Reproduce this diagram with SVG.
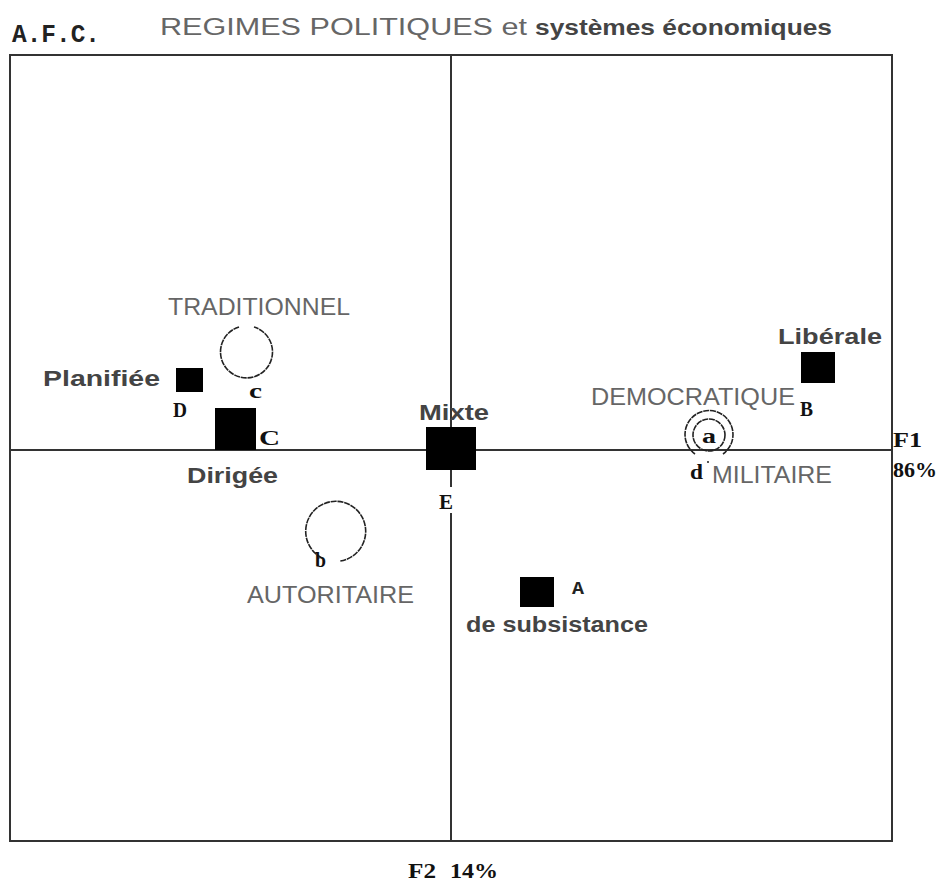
<svg xmlns="http://www.w3.org/2000/svg" width="943" height="887" viewBox="0 0 943 887">
<style>
.lt{font-family:"Liberation Sans",Arial,sans-serif;fill:#666;font-size:23px}
.bd{font-family:"Liberation Sans",Arial,sans-serif;font-weight:bold;fill:#444;font-size:22px}
.sf{font-family:"Liberation Serif","Times New Roman",serif;font-weight:bold;fill:#111;font-size:20px}
.mo{font-family:"Liberation Mono","Courier New",monospace;font-weight:bold;fill:#222}
.pt{fill:#000}
.ci{fill:none;stroke:#222;stroke-width:1.6;stroke-dasharray:6 0.8}
</style>
<rect width="943" height="887" fill="#fff"/>
<g id="title">
<text class="mo" x="12" y="42" font-size="25" textLength="88" lengthAdjust="spacingAndGlyphs">A.F.C.</text>
<text class="lt" x="160" y="35" font-size="29" textLength="367" lengthAdjust="spacingAndGlyphs" fill="#777">REGIMES POLITIQUES et</text>
<text class="bd" x="535" y="35" font-size="23" textLength="297" lengthAdjust="spacingAndGlyphs" fill="#333">systèmes économiques</text>
</g>
<g id="axes" fill="none" stroke="#333" stroke-width="2">
<rect x="10" y="55" width="882" height="786"/>
<line x1="451" y1="55" x2="451" y2="841"/>
<line x1="10" y1="450" x2="892" y2="450"/>
</g>
<g id="axis-labels">
<text class="sf" x="893" y="447" font-size="22" textLength="29" lengthAdjust="spacingAndGlyphs">F1</text>
<text class="sf" x="893" y="477" font-size="22" textLength="44" lengthAdjust="spacingAndGlyphs">86%</text>
<text class="sf" x="408" y="878" font-size="22" textLength="28" lengthAdjust="spacingAndGlyphs">F2</text>
<text class="sf" x="450" y="878" font-size="22" textLength="48" lengthAdjust="spacingAndGlyphs">14%</text>
</g>
<g id="node-D">
<rect class="pt" x="176" y="368" width="27" height="24"/>
<text class="bd" x="43" y="386" textLength="117" lengthAdjust="spacingAndGlyphs">Planifiée</text>
<text class="sf" x="173" y="417" textLength="14" lengthAdjust="spacingAndGlyphs">D</text>
</g>
<g id="node-C">
<rect class="pt" x="215" y="408" width="41" height="42"/>
<text class="sf" x="259" y="445" font-size="28" textLength="21" lengthAdjust="spacingAndGlyphs">C</text>
<text class="bd" x="187" y="483" textLength="91" lengthAdjust="spacingAndGlyphs">Dirigée</text>
</g>
<g id="node-E">
<rect class="pt" x="426" y="427" width="50" height="43"/>
<text class="bd" x="419" y="420" textLength="70" lengthAdjust="spacingAndGlyphs">Mixte</text>
<rect x="436" y="487" width="20" height="26" fill="#fff"/>
<text class="sf" x="439" y="509" textLength="14" lengthAdjust="spacingAndGlyphs">E</text>
</g>
<g id="node-A">
<rect class="pt" x="520" y="577" width="34" height="30"/>
<text class="mo" x="572" y="594" font-size="19" textLength="12" lengthAdjust="spacingAndGlyphs">A</text>
<text class="bd" x="466" y="632" textLength="182" lengthAdjust="spacingAndGlyphs">de subsistance</text>
</g>
<g id="node-B">
<rect class="pt" x="801" y="352" width="34" height="31"/>
<text class="bd" x="778" y="344" textLength="104" lengthAdjust="spacingAndGlyphs">Libérale</text>
<text class="sf" x="800" y="416" textLength="13" lengthAdjust="spacingAndGlyphs">B</text>
</g>
<g id="node-c">
<path class="ci" d="M239,327 A26,26 0 1 0 254,327"/>
<text class="lt" x="168" y="315" textLength="182" lengthAdjust="spacingAndGlyphs">TRADITIONNEL</text>
<text class="sf" x="249" y="398" textLength="13" lengthAdjust="spacingAndGlyphs">c</text>
</g>
<g id="node-b">
<path class="ci" d="M322,558 A30,30 0 1 1 340,561"/>
<text class="sf" x="315" y="567" textLength="11" lengthAdjust="spacingAndGlyphs">b</text>
<text class="lt" x="247" y="603" textLength="167" lengthAdjust="spacingAndGlyphs">AUTORITAIRE</text>
</g>
<g id="node-a">
<circle class="ci" cx="709" cy="435" r="16"/>
<path class="ci" d="M695,454 A24,24 0 1 1 723,454"/>
<text class="sf" x="702" y="443" font-size="20" textLength="14" lengthAdjust="spacingAndGlyphs">a</text>
<text class="lt" x="591" y="405" textLength="204" lengthAdjust="spacingAndGlyphs">DEMOCRATIQUE</text>
</g>
<g id="node-d">
<text class="sf" x="690" y="479" font-size="22" textLength="13" lengthAdjust="spacingAndGlyphs">d</text>
<circle cx="708" cy="462" r="1" fill="#222"/>
<text class="lt" x="712" y="483" textLength="120" lengthAdjust="spacingAndGlyphs">MILITAIRE</text>
</g>
</svg>
